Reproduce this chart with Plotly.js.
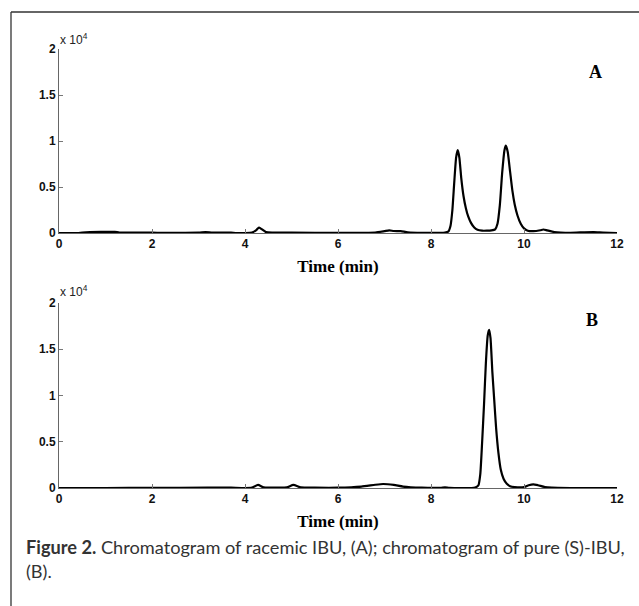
<!DOCTYPE html>
<html><head><meta charset="utf-8">
<script src="https://cdn.plot.ly/plotly-3.0.1.min.js"></script>
<style>html,body{margin:0;padding:0;background:#fff;}#chart{width:639px;height:606px;}</style>
</head><body><div id="chart"></div>
<script>
// Chromatogram A: racemic IBU (time in min, intensity)
const timeA = [0,0.4,0.5,0.9,1.2,1.3,2.0,3.0,3.15,3.3,3.7,3.8,4.0,4.15,4.25,4.3,4.35,4.45,4.6,5.0,6.0,6.8,7.0,7.1,7.2,7.35,7.5,7.8,8.30,8.37,8.42,8.46,8.50,8.54,8.575,8.61,8.65,8.70,8.75,8.80,8.86,8.93,9.00,9.10,9.20,9.30,9.38,9.43,9.48,9.53,9.58,9.61,9.65,9.70,9.75,9.80,9.86,9.93,10.00,10.08,10.2,10.35,10.42,10.5,10.65,11.0,11.3,11.5,11.7,12];
const signalA = [0,0,50,120,120,50,30,30,100,50,30,0,0,50,350,600,450,100,50,40,20,50,200,280,220,200,80,20,50,150,800,2500,5500,8200,9000,8200,6000,4000,2700,1800,1100,600,350,250,250,280,400,1000,3000,6500,9000,9500,8800,6700,4600,3100,1900,1000,500,250,200,300,380,280,100,20,80,100,50,0];
// Chromatogram B: pure (S)-IBU
const timeB = [0,1.0,2.0,3.2,3.4,3.7,4.0,4.15,4.28,4.4,4.6,4.9,5.04,5.2,5.5,6.0,6.5,6.8,6.97,7.2,7.4,7.8,8.2,8.3,8.4,8.95,9.02,9.06,9.10,9.14,9.18,9.22,9.25,9.28,9.32,9.36,9.40,9.45,9.50,9.56,9.63,9.70,9.80,10.0,10.1,10.2,10.3,10.45,10.6,11.0,12];
const signalB = [0,0,20,40,50,40,0,50,330,60,40,60,330,60,30,30,150,350,430,330,150,30,20,60,20,50,300,1500,5000,9000,13500,16500,17100,16200,12500,9500,6500,3800,2000,1000,450,200,100,100,300,400,300,100,30,0,0];
const yTickVals = [0,5000,10000,15000,20000];
const yTickText = ['0','0.5','1','1.5','2'];
const xTickVals = [0,2,4,6,8,10,12];
const caption = '<b>Figure 2.</b> Chromatogram of racemic IBU, (A); chromatogram of pure (S)-IBU,<br>(B).';

const W = 639, H = 606;
const px = v => v / W, py = v => 1 - v / H;

const lineStyle = {color:'#000', width:2.2, shape:'spline', smoothing:0.5};
const data = [
  {x: timeA, y: signalA, type:'scatter', mode:'lines', line: lineStyle, xaxis:'x', yaxis:'y', hoverinfo:'skip'},
  {x: timeB, y: signalB, type:'scatter', mode:'lines', line: lineStyle, xaxis:'x2', yaxis:'y2', hoverinfo:'skip'}
];

const tickFont = {family:'Liberation Sans, Arial, sans-serif', size:12, color:'#111', weight:700};
const titleFont = {family:'Liberation Serif, Times New Roman, serif', size:17, color:'#000', weight:700};
function xAx(anchor){
  return {domain:[px(59), px(617)], range:[0,12], anchor:anchor, tickvals:xTickVals,
    ticks:'inside', ticklen:4, tickcolor:'#777', showline:true, linecolor:'#666', linewidth:1,
    showgrid:false, zeroline:false, tickfont:tickFont,
    title:{text:'Time (min)', font:titleFont, standoff:9}};
}
function yAx(anchor, dom){
  return {domain:dom, range:[0,20000], anchor:anchor, tickvals:yTickVals, ticktext:yTickText,
    ticks:'inside', ticklen:4, tickcolor:'#777', showline:true, linecolor:'#666', linewidth:1,
    showgrid:false, zeroline:false, tickfont:tickFont};
}

const layout = {
  width:W, height:H, margin:{l:0,r:0,t:0,b:0}, paper_bgcolor:'#fff', plot_bgcolor:'#fff',
  showlegend:false,
  xaxis: xAx('y'),
  yaxis: yAx('x', [py(233), py(49)]),
  xaxis2: xAx('y2'),
  yaxis2: yAx('x2', [py(488), py(303)]),
  shapes:[
    {type:'line', xref:'paper', yref:'paper', x0:px(11), x1:1.01, y0:py(12), y1:py(12), line:{color:'#333', width:1.3}},
    {type:'line', xref:'paper', yref:'paper', x0:px(11), x1:px(11), y0:py(12), y1:-0.01, line:{color:'#333', width:1.3}}
  ],
  annotations:[
    {xref:'paper', yref:'paper', x:px(58), y:py(39), xanchor:'left', yanchor:'middle', showarrow:false,
     text:'x 10<sup>4</sup>', font:{family:'Liberation Sans, Arial, sans-serif', size:12, color:'#222'}},
    {xref:'paper', yref:'paper', x:px(58), y:py(291), xanchor:'left', yanchor:'middle', showarrow:false,
     text:'x 10<sup>4</sup>', font:{family:'Liberation Sans, Arial, sans-serif', size:12, color:'#222'}},
    {xref:'paper', yref:'paper', x:px(595), y:py(72), xanchor:'center', yanchor:'middle', showarrow:false,
     text:'<b>A</b>', font:{family:'Liberation Serif, Times New Roman, serif', size:18, color:'#000'}},
    {xref:'paper', yref:'paper', x:px(592), y:py(320), xanchor:'center', yanchor:'middle', showarrow:false,
     text:'<b>B</b>', font:{family:'Liberation Serif, Times New Roman, serif', size:18, color:'#000'}},
    {xref:'paper', yref:'paper', x:px(24), y:py(534), xanchor:'left', yanchor:'top', align:'left', showarrow:false,
     text:caption, font:{family:'Lato, sans-serif', size:18.2, color:'#333'}}
  ]
};
Plotly.newPlot('chart', data, layout, {staticPlot:true, displayModeBar:false});
</script></body></html>
